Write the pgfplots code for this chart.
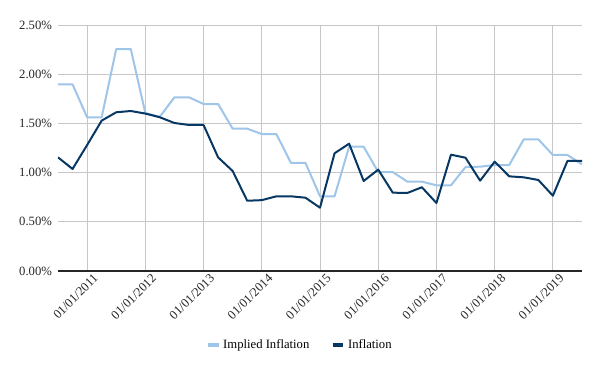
\documentclass[border=0pt]{standalone}
\usepackage{fontspec}
\setmainfont{Liberation Serif}
\usepackage{pgfplots}
\usepackage{pgfplotstable}
\pgfplotsset{compat=1.18}
\definecolor{implied}{HTML}{9FC5E8}
\definecolor{infl}{HTML}{073763}
\pgfplotstableread{
q implied infl
0 1.897 1.155
1 1.897 1.037
2 1.562 1.280
3 1.562 1.528
4 2.256 1.613
5 2.256 1.626
6 1.605 1.600
7 1.568 1.562
8 1.765 1.504
9 1.765 1.484
10 1.697 1.484
11 1.697 1.155
12 1.446 1.016
13 1.446 0.714
14 1.392 0.720
15 1.392 0.759
16 1.100 0.759
17 1.100 0.745
18 0.759 0.643
19 0.759 1.196
20 1.263 1.294
21 1.263 0.915
22 1.006 1.030
23 1.006 0.796
24 0.908 0.793
25 0.908 0.851
26 0.871 0.691
27 0.871 1.182
28 1.057 1.151
29 1.060 0.918
30 1.077 1.111
31 1.077 0.962
32 1.338 0.952
33 1.338 0.925
34 1.179 0.765
35 1.179 1.118
36 1.084 1.118
}\datatable
\begin{document}
\begin{tikzpicture}[x=1pt,y=1pt]
\begin{axis}[
  at={(0,0)}, anchor=south west,
  scale only axis, width=393pt, height=184.5pt,
  xmin=0, xmax=36, ymin=0, ymax=2.5,
  axis x line*=bottom, axis y line*=left,
  y axis line style={draw=none},
  x axis line style={draw=black!85, line width=0.8pt, -},
  major tick length=0pt,
  xtick={2,6,10,14,18,22,26,30,34},
  xticklabels={01/01/2011,01/01/2012,01/01/2013,01/01/2014,01/01/2015,01/01/2016,01/01/2017,01/01/2018,01/01/2019},
  ytick={0,0.5,1,1.5,2,2.5},
  yticklabel={\pgfmathprintnumber[fixed,fixed zerofill,precision=2]{\tick}\%},
  /pgf/number format/assume math mode=true,
  tick label style={font=\fontsize{9.5}{11}\selectfont, text=black!85},
  xticklabel style={rotate=45, anchor=north east, inner sep=1pt, xshift=3pt, yshift=-3pt},
  yticklabel style={xshift=-1pt},
  grid=major,
  grid style={draw=black!22, line width=0.6pt},
  legend style={at={(0.462,-0.301)}, anchor=center, draw=none, fill=none,
    legend columns=2, font=\fontsize{9.5}{11}\selectfont,
    /tikz/every even column/.append style={column sep=14pt}},
  legend image code/.code={\draw[#1, line width=3pt] (0pt,0pt) -- (8pt,0pt);},
]
\addplot[implied, line width=1.5pt, line join=round] table[x=q, y=implied]{\datatable};
\addlegendentry{Implied Inflation}
\addplot[infl, line width=1.5pt, line join=round] table[x=q, y=infl]{\datatable};
\addlegendentry{Inflation}
\end{axis}
\pgfresetboundingbox
\path (-43.5,-75) rectangle (406.5,203.25);
\end{tikzpicture}
\end{document}
